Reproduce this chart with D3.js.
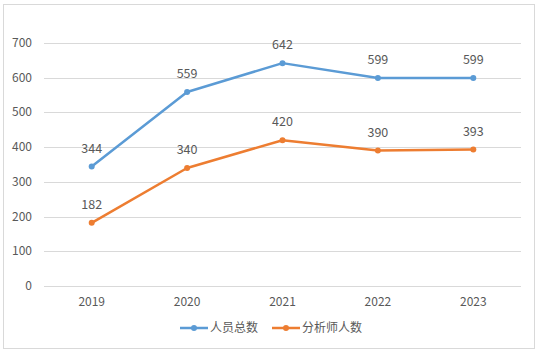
<!DOCTYPE html>
<html>
<head>
<meta charset="utf-8">
<script src="https://cdn.jsdelivr.net/npm/d3@7"></script>
<style>
  body { margin: 0; background: #fff; }
  text { font-family: "Microsoft YaHei", "Noto Sans CJK SC", sans-serif; fill: #595959; }
</style>
</head>
<body>
<div id="chart"></div>
<script>
"use strict"

// chart data
const years = ["2019", "2020", "2021", "2022", "2023"];
const totalStaff = [344, 559, 642, 599, 599];
const analysts = [182, 340, 420, 390, 393];
const yTicks = [0, 100, 200, 300, 400, 500, 600, 700];
const seriesNames = ["人员总数", "分析师人数"];
const seriesColors = ["#5b9bd5", "#ed7d31"];

const width = 539, height = 354;
const plot = {left: 44, right: 521, top: 43, bottom: 286};

const svg = d3.select("#chart").append("svg")
    .attr("width", width)
    .attr("height", height);

// outer frame
svg.append("rect")
    .attr("x", 3.5).attr("y", 4.5)
    .attr("width", 531).attr("height", 344)
    .attr("fill", "#fff")
    .attr("stroke", "#d9d9d9");

const x = d3.scaleBand().domain(years).range([plot.left, plot.right]);
const y = d3.scaleLinear().domain([0, 700]).range([plot.bottom, plot.top]);

// gridlines
svg.append("g").selectAll("line")
  .data(yTicks)
  .enter().append("line")
    .attr("x1", plot.left).attr("x2", plot.right)
    .attr("y1", d => Math.round(y(d)) + 0.5)
    .attr("y2", d => Math.round(y(d)) + 0.5)
    .attr("stroke", "#d9d9d9");

// y axis labels
svg.append("g").selectAll("text")
  .data(yTicks)
  .enter().append("text")
    .attr("x", 32)
    .attr("y", d => y(d) + 4)
    .attr("text-anchor", "end")
    .style("font-size", "12px")
    .text(d => d);

// x axis labels
svg.append("g").selectAll("text")
  .data(years)
  .enter().append("text")
    .attr("x", d => x(d) + x.bandwidth() / 2)
    .attr("y", 306)
    .attr("text-anchor", "middle")
    .style("font-size", "12px")
    .text(d => d);

const line = d3.line()
    .x((d, i) => x(years[i]) + x.bandwidth() / 2)
    .y(d => y(d));

[totalStaff, analysts].forEach(function(values, k) {
  const g = svg.append("g");
  g.append("path")
    .attr("d", line(values))
    .attr("fill", "none")
    .attr("stroke", seriesColors[k])
    .attr("stroke-width", 2.5)
    .attr("stroke-linejoin", "round");
  g.selectAll("circle")
    .data(values)
    .enter().append("circle")
      .attr("cx", (d, i) => x(years[i]) + x.bandwidth() / 2)
      .attr("cy", d => y(d))
      .attr("r", 3)
      .attr("fill", seriesColors[k]);
  g.selectAll("text")
    .data(values)
    .enter().append("text")
      .attr("x", (d, i) => x(years[i]) + x.bandwidth() / 2)
      .attr("y", d => y(d) - 14)
      .attr("text-anchor", "middle")
      .style("font-size", "12.5px")
      .text(d => d);
});

// legend
const legendX = [180, 272];
seriesNames.forEach(function(name, k) {
  const g = svg.append("g").attr("transform", "translate(" + legendX[k] + ",328)");
  g.append("line")
    .attr("x1", 0).attr("x2", 28)
    .attr("stroke", seriesColors[k])
    .attr("stroke-width", 2.5);
  g.append("circle")
    .attr("cx", 14).attr("r", 3)
    .attr("fill", seriesColors[k]);
  g.append("text")
    .attr("x", 30).attr("y", 4)
    .style("font-size", "12px")
    .text(name);
});
</script>
</body>
</html>
